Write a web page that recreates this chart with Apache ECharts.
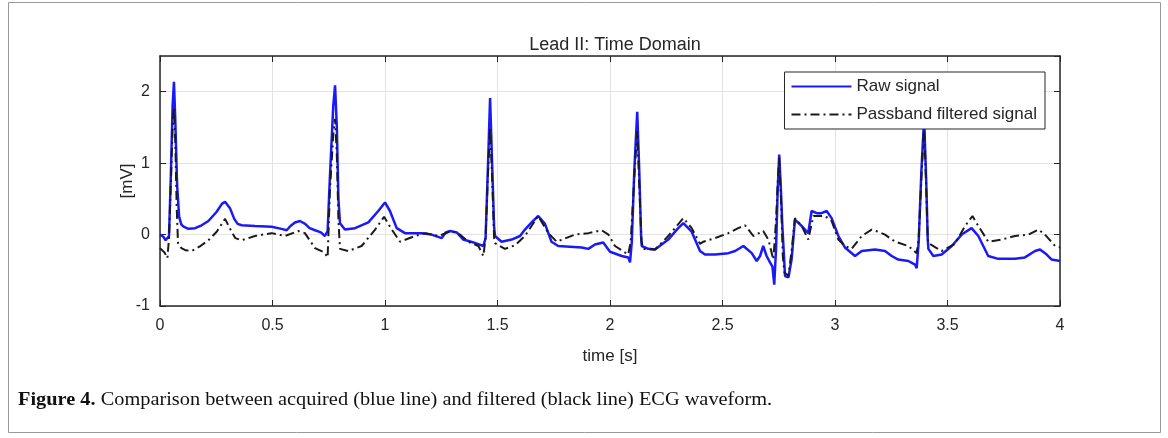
<!DOCTYPE html>
<html>
<head>
<meta charset="utf-8">
<style>
  html, body { margin: 0; padding: 0; background: #fff; }
  #chart { width: 1168px; height: 438px; }
</style>
<script src="https://cdn.jsdelivr.net/npm/echarts@6/dist/echarts.min.js"></script>
</head>
<body>
<div id="chart"></div>
<script>
// time [s], mV
var rawSignal = [
  [0.000, 0.00], [0.015, -0.03], [0.025, -0.08], [0.033, -0.09], [0.040, -0.02],
  [0.048, 0.80], [0.056, 1.80], [0.062, 2.14], [0.068, 1.60], [0.076, 0.70],
  [0.085, 0.25], [0.095, 0.14], [0.105, 0.11], [0.126, 0.08], [0.156, 0.09],
  [0.185, 0.13], [0.215, 0.19], [0.252, 0.32], [0.275, 0.43], [0.289, 0.46],
  [0.311, 0.37], [0.330, 0.22], [0.345, 0.15], [0.363, 0.13], [0.422, 0.12],
  [0.496, 0.11], [0.540, 0.08], [0.563, 0.06], [0.580, 0.12], [0.600, 0.17],
  [0.622, 0.19], [0.645, 0.15], [0.665, 0.09], [0.689, 0.06], [0.715, 0.03],
  [0.733, -0.02], [0.745, 0.05], [0.755, 0.80], [0.770, 1.80], [0.778, 2.09],
  [0.786, 1.50], [0.793, 0.50], [0.800, 0.16], [0.822, 0.07], [0.867, 0.09],
  [0.926, 0.17], [0.970, 0.33], [1.000, 0.45], [1.022, 0.33], [1.052, 0.09],
  [1.089, 0.02], [1.163, 0.02], [1.207, 0.00], [1.252, -0.05], [1.270, 0.03],
  [1.289, 0.05], [1.319, 0.03], [1.348, -0.07], [1.393, -0.11], [1.437, -0.16],
  [1.447, -0.05], [1.457, 0.90], [1.467, 1.91], [1.476, 1.00], [1.485, 0.10],
  [1.489, -0.02], [1.518, -0.10], [1.563, -0.07], [1.600, -0.02], [1.622, 0.07],
  [1.655, 0.18], [1.681, 0.26], [1.711, 0.15], [1.740, -0.10], [1.770, -0.16],
  [1.874, -0.18], [1.904, -0.20], [1.933, -0.14], [1.970, -0.11], [2.000, -0.24],
  [2.052, -0.30], [2.081, -0.32], [2.089, -0.39], [2.097, -0.10], [2.108, 0.90],
  [2.121, 1.72], [2.130, 0.90], [2.138, 0.00], [2.141, -0.16], [2.170, -0.20],
  [2.200, -0.21], [2.259, -0.07], [2.300, 0.08], [2.326, 0.16], [2.363, 0.04],
  [2.400, -0.23], [2.422, -0.28], [2.467, -0.28], [2.526, -0.26], [2.556, -0.23],
  [2.593, -0.16], [2.630, -0.26], [2.652, -0.37], [2.667, -0.30], [2.681, -0.16],
  [2.696, -0.30], [2.711, -0.39], [2.722, -0.45], [2.730, -0.70], [2.738, -0.20],
  [2.745, 0.60], [2.752, 1.12], [2.760, 0.60], [2.766, 0.12], [2.778, -0.58],
  [2.793, -0.60], [2.807, -0.35], [2.822, 0.21], [2.852, 0.12], [2.881, 0.02],
  [2.896, 0.33], [2.919, 0.30], [2.940, 0.30], [2.963, 0.33], [2.985, 0.23],
  [3.015, -0.02], [3.044, -0.18], [3.089, -0.30], [3.119, -0.23], [3.178, -0.21],
  [3.222, -0.23], [3.252, -0.30], [3.281, -0.35], [3.326, -0.37], [3.356, -0.42],
  [3.363, -0.47], [3.372, -0.10], [3.384, 0.90], [3.396, 1.62], [3.405, 0.80],
  [3.412, -0.05], [3.415, -0.20], [3.437, -0.30], [3.474, -0.28], [3.519, -0.16],
  [3.563, 0.00], [3.607, 0.09], [3.637, -0.02], [3.681, -0.30], [3.726, -0.34],
  [3.800, -0.34], [3.844, -0.32], [3.889, -0.23], [3.911, -0.21], [3.941, -0.28],
  [3.963, -0.35], [4.000, -0.37]
];

var filteredSignal = [
  [0.000, -0.19], [0.020, -0.25], [0.033, -0.33], [0.040, -0.05], [0.048, 0.70],
  [0.056, 1.50], [0.062, 1.78], [0.068, 1.30], [0.074, 0.40], [0.080, -0.12],
  [0.095, -0.19], [0.115, -0.22], [0.140, -0.23], [0.175, -0.17], [0.215, -0.08],
  [0.252, 0.04], [0.289, 0.22], [0.315, 0.06], [0.335, -0.05], [0.363, -0.08],
  [0.422, -0.02], [0.496, 0.02], [0.556, -0.02], [0.615, 0.05], [0.644, 0.02],
  [0.689, -0.19], [0.730, -0.25], [0.745, -0.32], [0.755, 0.60], [0.770, 1.40],
  [0.778, 1.62], [0.786, 1.10], [0.793, 0.20], [0.800, -0.20], [0.837, -0.23],
  [0.896, -0.16], [0.956, 0.07], [0.996, 0.25], [1.030, 0.07], [1.067, -0.10],
  [1.133, -0.02], [1.178, 0.02], [1.237, -0.02], [1.296, 0.05], [1.333, 0.00],
  [1.370, -0.10], [1.415, -0.16], [1.437, -0.30], [1.447, -0.05], [1.457, 0.80],
  [1.467, 1.50], [1.476, 0.80], [1.485, -0.05], [1.489, -0.12], [1.533, -0.20],
  [1.578, -0.15], [1.622, -0.02], [1.681, 0.26], [1.726, 0.02], [1.763, -0.10],
  [1.844, 0.00], [1.904, 0.02], [1.963, 0.06], [1.993, 0.00], [2.022, -0.16],
  [2.081, -0.28], [2.092, -0.10], [2.108, 0.80], [2.121, 1.45], [2.130, 0.70],
  [2.140, -0.10], [2.148, -0.20], [2.200, -0.21], [2.259, -0.02], [2.326, 0.23],
  [2.363, 0.09], [2.400, -0.13], [2.415, -0.10], [2.467, -0.05], [2.526, 0.02],
  [2.570, 0.09], [2.600, 0.13], [2.637, -0.02], [2.681, 0.05], [2.704, -0.07],
  [2.726, -0.35], [2.738, 0.20], [2.745, 0.70], [2.752, 1.08], [2.760, 0.50],
  [2.768, -0.30], [2.775, -0.53], [2.793, -0.58], [2.808, -0.20], [2.822, 0.23],
  [2.852, 0.12], [2.881, -0.07], [2.904, 0.26], [2.956, 0.26], [2.985, 0.19],
  [3.015, -0.07], [3.044, -0.16], [3.074, -0.20], [3.119, -0.02], [3.163, 0.07],
  [3.200, 0.03], [3.222, 0.00], [3.267, -0.10], [3.326, -0.16], [3.363, -0.26],
  [3.372, -0.05], [3.384, 0.80], [3.396, 1.50], [3.405, 0.70], [3.412, -0.05],
  [3.415, -0.12], [3.474, -0.23], [3.533, -0.13], [3.578, 0.12], [3.611, 0.26],
  [3.637, 0.12], [3.681, -0.10], [3.741, -0.07], [3.800, -0.02], [3.859, 0.00],
  [3.904, 0.07], [3.933, 0.00], [3.978, -0.16], [4.000, -0.18]
];

var seriesNames = ['Raw signal', 'Passband filtered signal'];
var timeRange = [0, 4];      // x axis, step 0.5
var mvRange = [-1, 2.5];     // y axis, labels -1..2

var axisColor = '#262626';
var font = '"Liberation Sans", Arial, sans-serif';

var myChart = echarts.init(document.getElementById('chart'));

// top / right axes only close the box (MATLAB style ticks on all sides)
function boxAxis(pos, isX) {
    return {
        type: 'value',
        position: pos,
        min: isX ? timeRange[0] : mvRange[0],
        max: isX ? timeRange[1] : mvRange[1],
        interval: isX ? 0.5 : 1,
        axisLine: { show: true, onZero: false, lineStyle: { color: axisColor, width: 1.5 } },
        axisTick: { show: true, inside: true, length: 6, lineStyle: { color: axisColor } },
        axisLabel: { show: false },
        splitLine: { show: false }
    };
}

var option = {
    animation: false,
    backgroundColor: '#fff',
    title: {
        text: 'Lead II: Time Domain',
        left: 610,
        textAlign: 'center',
        top: 31,
        textStyle: { fontFamily: font, fontSize: 18, fontWeight: 'normal', color: axisColor }
    },
    legend: {
        data: seriesNames,
        orient: 'vertical',
        right: 123,
        top: 72,
        itemWidth: 60,
        itemHeight: 14,
        itemGap: 11,
        padding: [6, 8, 6, 6],
        backgroundColor: '#fff',
        borderColor: axisColor,
        borderWidth: 1,
        borderRadius: 0,
        itemStyle: { opacity: 0 },
        textStyle: { fontFamily: font, fontSize: 17, color: axisColor }
    },
    grid: { left: 160, top: 56, width: 900, height: 250 },
    xAxis: [{
        type: 'value',
        min: timeRange[0],
        max: timeRange[1],
        interval: 0.5,
        name: 'time [s]',
        nameLocation: 'middle',
        nameGap: 42,
        nameTextStyle: { fontFamily: font, fontSize: 17, color: axisColor },
        axisLine: { show: true, onZero: false, lineStyle: { color: axisColor, width: 1.5 } },
        axisTick: { show: true, inside: true, length: 6, lineStyle: { color: axisColor } },
        axisLabel: { fontFamily: font, fontSize: 16, color: axisColor, margin: 12 },
        splitLine: { show: true, lineStyle: { color: '#e3e3e3', width: 1 } }
    }, boxAxis('top', true)],
    yAxis: [{
        type: 'value',
        min: mvRange[0],
        max: mvRange[1],
        interval: 1,
        name: '[mV]',
        nameLocation: 'middle',
        nameGap: 24,
        nameMoveOverlap: false,
        nameTextStyle: { fontFamily: font, fontSize: 17, color: axisColor },
        axisLine: { show: true, onZero: false, lineStyle: { color: axisColor, width: 1.5 } },
        axisTick: { show: true, inside: true, length: 6, lineStyle: { color: axisColor } },
        axisLabel: { fontFamily: font, fontSize: 16, color: axisColor, margin: 10, showMaxLabel: false },
        splitLine: { show: true, lineStyle: { color: '#e3e3e3', width: 1 } }
    }, boxAxis('right', false)],
    graphic: [
        {
            type: 'rect',
            shape: { x: 8.5, y: 2.5, width: 1152, height: 430 },
            style: { fill: 'none', stroke: '#9a9a9a', lineWidth: 1 },
            silent: true
        },
        {
            type: 'text',
            x: 18,
            y: 391,
            scaleX: 1.13,
            style: {
                text: '{b|Figure 4.} Comparison between acquired (blue line) and filtered (black line) ECG waveform.',
                font: '18px "Liberation Serif", serif',
                fill: '#111',
                rich: {
                    b: { fontWeight: 'bold', fontFamily: '"Liberation Serif", serif', fontSize: 18, fill: '#111' }
                }
            }
        }
    ],
    series: [
        {
            name: seriesNames[0],
            type: 'line',
            data: rawSignal,
            symbol: 'none',
            lineStyle: { color: '#1a1af8', width: 2.5 },
            itemStyle: { color: '#1a1af8' },
            z: 2
        },
        {
            name: seriesNames[1],
            type: 'line',
            data: filteredSignal,
            symbol: 'none',
            lineStyle: { color: '#1a1a1a', width: 2, type: [9, 4, 2, 4] },
            itemStyle: { color: '#1a1a1a' },
            z: 3
        }
    ]
};

myChart.setOption(option);
</script>
</body>
</html>
